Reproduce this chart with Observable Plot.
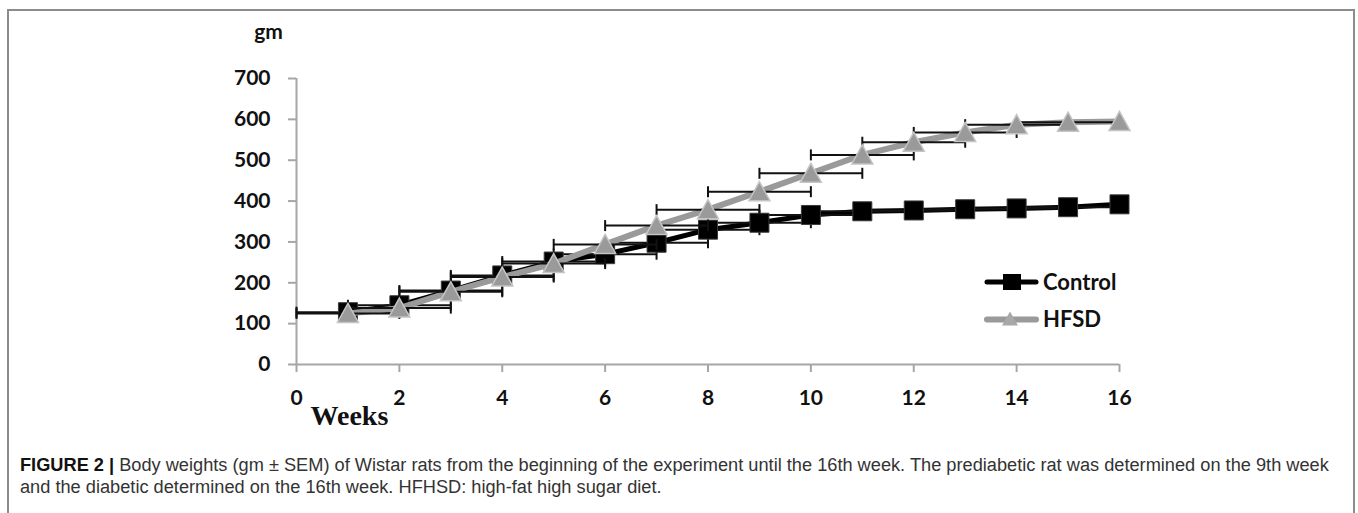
<!DOCTYPE html>
<html>
<head>
<meta charset="utf-8">
<script src="https://cdn.jsdelivr.net/npm/d3@7"></script>
<script src="https://cdn.jsdelivr.net/npm/@observablehq/plot@0.6"></script>
<style>
  html, body { margin: 0; padding: 0; background: #fff; overflow: hidden; }
  #frame { position: absolute; left: 7px; top: 9px; width: 1344px; height: 520px; border: 2px solid #8c8c8c; border-bottom: none; }
  #chart { position: absolute; left: 0; top: 0; }
  #legend { position: absolute; left: 0; top: 0; pointer-events: none; }
  #caption { position: absolute; left: 20px; top: 454px; font-family: "Liberation Sans", Arial, sans-serif; color: #333; line-height: 22px; white-space: nowrap; font-size: 16px; }
  #caption b { color: #111; }
</style>
</head>
<body>
<div id="frame"></div>
<div id="chart"></div>
<svg id="legend" width="1358" height="440"></svg>
<div id="caption"><span id="cap1"><b>FIGURE 2 |</b> Body weights (gm ± SEM) of Wistar rats from the beginning of the experiment until the 16th week. The prediabetic rat was determined on the 9th week</span><br><span>and the diabetic determined on the 16th week. HFHSD: high-fat high sugar diet.</span></div>
<script>
// ---- data ----
const weeks = [1, 2, 3, 4, 5, 6, 7, 8, 9, 10, 11, 12, 13, 14, 15, 16];
const controlWeight = [128, 145, 181, 218, 252, 270, 298, 330, 347, 366, 375, 377, 380, 382, 385, 392];
const hfsdWeight = [125, 138, 178, 214, 247, 294, 340, 379, 423, 468, 513, 544, 568, 587, 593, 595];
// horizontal error bars as drawn (half-width, in weeks); 0 = no bar
const controlErr = [1, 1, 1, 1, 1, 1, 1, 1, 1, 1, 1, 1, 1, 1, 1, 0];
const hfsdErr = [1, 1, 1, 1, 1, 1, 1, 1, 1, 1, 1, 1, 1, 1, 1, 0];
const seriesNames = ["Control", "HFSD"];
const xTicks = [0, 2, 4, 6, 8, 10, 12, 14, 16];
const yTicks = [0, 100, 200, 300, 400, 500, 600, 700];
const yLabel = "gm";
const xLabel = "Weeks";

// ---- tables ----
const control = weeks.map((w, i) => ({week: w, value: controlWeight[i], err: controlErr[i]}));
const hfsd = weeks.map((w, i) => ({week: w, value: hfsdWeight[i], err: hfsdErr[i]}));
const bars = s => s.filter(d => d.err > 0);
const caps = s => bars(s).flatMap(d => [{x: d.week - d.err, y: d.value}, {x: d.week + d.err, y: d.value}]);

// ---- symbols ----
const squareSym = {draw(ctx, size) { const s = Math.sqrt(size / Math.PI); ctx.rect(-s, -s, 2 * s, 2 * s); }};
const triSym = {draw(ctx, size) { const s = Math.sqrt(size / Math.PI); ctx.moveTo(0, -s); ctx.lineTo(s * 1.05, s * 0.9); ctx.lineTo(-s * 1.05, s * 0.9); ctx.closePath(); }};
const capSym = {draw(ctx, size) { const s = Math.sqrt(size / Math.PI); ctx.moveTo(0, -s); ctx.lineTo(0, s); }};

const axisColor = "#a6a6a6";
const barColor = "#111";

const plot = Plot.plot({
  width: 1358,
  height: 440,
  marginLeft: 296,
  marginRight: 239,
  marginTop: 78,
  marginBottom: 76,
  x: {domain: [0, 16]},
  y: {domain: [0, 700]},
  style: {background: "transparent", fontFamily: "Lato, sans-serif", fontSize: "21px", fontWeight: "bold", color: "#111"},
  marks: [
    Plot.ruleX([0], {stroke: axisColor, strokeWidth: 2}),
    Plot.ruleY([0], {stroke: axisColor, strokeWidth: 2}),
    Plot.axisX({ticks: xTicks, tickSize: 8, tickPadding: 18, stroke: axisColor, strokeWidth: 2, fill: "#111", fontSize: 21, fontWeight: "bold", fontFamily: "Lato", label: null, tickFormat: d => String(d)}),
    Plot.axisY({ticks: yTicks, tickSize: 8, tickPadding: 18, stroke: axisColor, strokeWidth: 2, fill: "#111", fontSize: 21, fontWeight: "bold", fontFamily: "Lato", label: null, tickFormat: d => String(d)}),
    Plot.text([yLabel], {text: d => d, frameAnchor: "top-left", dx: -28, dy: -40, lineAnchor: "bottom", textAnchor: "middle", fontFamily: "Lato", fontSize: 21, fontWeight: "bold", fill: "#111"}),
    Plot.text([xLabel], {text: d => d, frameAnchor: "bottom-left", dx: 14, dy: 60, lineAnchor: "bottom", textAnchor: "start", fontFamily: "Liberation Serif", fontSize: 28, fontWeight: "bold", fill: "#111"}),
    // Control
    Plot.line(control, {x: "week", y: "value", stroke: "#000", strokeWidth: 5, strokeLinejoin: "round"}),
    Plot.link(bars(control), {x1: d => d.week - d.err, x2: d => d.week + d.err, y1: "value", y2: "value", stroke: barColor, strokeWidth: 2}),
    Plot.dot(caps(control), {x: "x", y: "y", symbol: capSym, r: 5.5, stroke: barColor, strokeWidth: 2, fill: "none"}),
    Plot.dot(control, {x: "week", y: "value", symbol: squareSym, r: 9.5, fill: "#000", stroke: "#3a3a3a", strokeWidth: 1}),
    // HFSD
    Plot.line(hfsd, {x: "week", y: "value", stroke: "#9a9a9a", strokeWidth: 6, strokeLinejoin: "round"}),
    Plot.link(bars(hfsd), {x1: d => d.week - d.err, x2: d => d.week + d.err, y1: "value", y2: "value", stroke: barColor, strokeWidth: 2}),
    Plot.dot(caps(hfsd), {x: "x", y: "y", symbol: capSym, r: 5.5, stroke: barColor, strokeWidth: 2, fill: "none"}),
    Plot.dot(hfsd, {x: "week", y: "value", symbol: triSym, r: 10, fill: "#9a9a9a", stroke: "#c4c4c4", strokeWidth: 1.5})
  ]
});
document.getElementById("chart").appendChild(plot);

// ---- legend ----
const lg = d3.select("#legend");
const legendItems = [
  {name: seriesNames[0], stroke: "#000", width: 5, marker: "square"},
  {name: seriesNames[1], stroke: "#9a9a9a", width: 6, marker: "triangle"}
];
legendItems.forEach((it, i) => {
  const cy = 282 + i * 37.5;
  lg.append("line").attr("x1", 987).attr("x2", 1036).attr("y1", cy).attr("y2", cy)
    .attr("stroke", it.stroke).attr("stroke-width", it.width).attr("stroke-linecap", "round");
  if (it.marker === "square") {
    lg.append("rect").attr("x", 1003).attr("y", cy - 8).attr("width", 18).attr("height", 16).attr("fill", "#000");
  } else {
    lg.append("path").attr("d", `M1010,${cy - 8} L1018,${cy + 6} L1002,${cy + 6} Z`).attr("fill", "#a8a8a8");
  }
  lg.append("text").attr("x", 1043).attr("y", cy).attr("dy", "0.35em")
    .attr("font-family", "Lato, sans-serif").attr("font-weight", "bold").attr("font-size", 22).attr("fill", "#111")
    .text(it.name);
});

// ---- fit caption line width to reference ----
const cap = document.getElementById("caption");
const w = document.getElementById("cap1").getBoundingClientRect().width;
if (w > 0) cap.style.fontSize = (16 * 1310 / w).toFixed(2) + "px";
</script>
</body>
</html>
